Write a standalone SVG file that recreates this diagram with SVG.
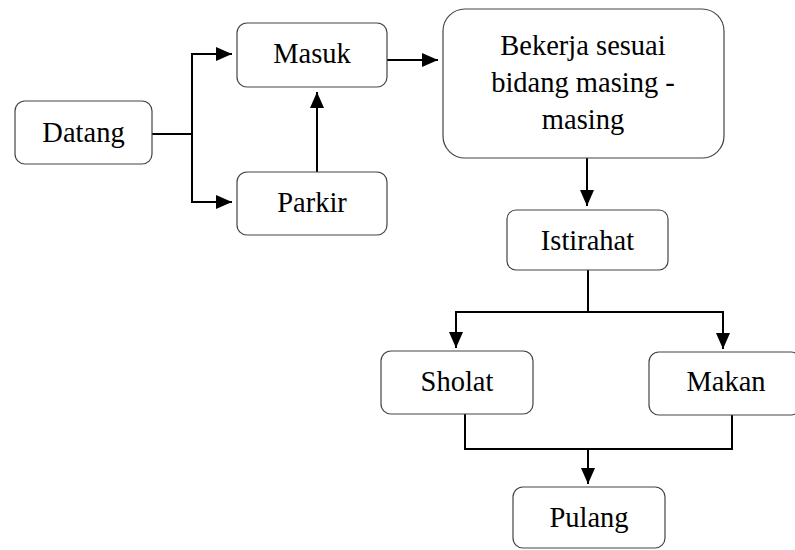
<svg xmlns="http://www.w3.org/2000/svg" width="795" height="550" viewBox="0 0 795 550">
<defs>
<marker id="ah" viewBox="0 0 16 14" refX="16" refY="7" markerWidth="16" markerHeight="14" markerUnits="userSpaceOnUse" orient="auto">
<path d="M0,0 L16,7 L0,14 Z" fill="#000"/>
</marker>
</defs>
<rect width="795" height="550" fill="#fff"/>
<g id="connectors" fill="none" stroke="#000" stroke-width="2">
<path d="M152,134 H192 V54 H232" marker-end="url(#ah)"/>
<path d="M192,134 V202 H232" marker-end="url(#ah)"/>
<path d="M317,172 V92" marker-end="url(#ah)"/>
<path d="M387,60 H438" marker-end="url(#ah)"/>
<path d="M587,158 V206" marker-end="url(#ah)"/>
<path d="M588,270 V312"/>
<path d="M588,312 H456 V348" marker-end="url(#ah)"/>
<path d="M588,312 H723 V349" marker-end="url(#ah)"/>
<path d="M465,414 V449 H732 V415"/>
<path d="M588,449 V484" marker-end="url(#ah)"/>
</g>
<g id="nodes" fill="#fff" stroke="#444" stroke-width="1.2">
<g id="datang"><rect x="15" y="101" width="137" height="63" rx="10"/><text x="83.5" y="142" font-family="Liberation Serif" font-size="28.5" text-anchor="middle" fill="#000" stroke="none" style="font-family:'Liberation Serif',serif">Datang</text></g>
<g id="masuk"><rect x="237" y="23" width="150" height="64" rx="10"/><text x="312" y="63" font-family="Liberation Serif" font-size="28.5" text-anchor="middle" fill="#000" stroke="none" style="font-family:'Liberation Serif',serif">Masuk</text></g>
<g id="parkir"><rect x="237" y="172" width="150" height="63" rx="10"/><text x="312" y="212" font-family="Liberation Serif" font-size="28.5" text-anchor="middle" fill="#000" stroke="none" style="font-family:'Liberation Serif',serif">Parkir</text></g>
<g id="bekerja"><rect x="443" y="9" width="281" height="149" rx="22"/><text x="583" y="55" font-family="Liberation Serif" font-size="28.5" text-anchor="middle" fill="#000" stroke="none" style="font-family:'Liberation Serif',serif">Bekerja sesuai</text><text x="583" y="92" font-family="Liberation Serif" font-size="28.5" text-anchor="middle" fill="#000" stroke="none" style="font-family:'Liberation Serif',serif">bidang masing -</text><text x="583" y="129" font-family="Liberation Serif" font-size="28.5" text-anchor="middle" fill="#000" stroke="none" style="font-family:'Liberation Serif',serif">masing</text></g>
<g id="istirahat"><rect x="507" y="210" width="161" height="60" rx="9"/><text x="587.5" y="250" font-family="Liberation Serif" font-size="28.5" text-anchor="middle" fill="#000" stroke="none" style="font-family:'Liberation Serif',serif">Istirahat</text></g>
<g id="sholat"><rect x="381" y="351" width="152" height="63" rx="10"/><text x="457" y="391" font-family="Liberation Serif" font-size="28.5" text-anchor="middle" fill="#000" stroke="none" style="font-family:'Liberation Serif',serif">Sholat</text></g>
<g id="makan"><rect x="649" y="352" width="152" height="63" rx="10"/><text x="726" y="391" font-family="Liberation Serif" font-size="28.5" text-anchor="middle" fill="#000" stroke="none" style="font-family:'Liberation Serif',serif">Makan</text></g>
<g id="pulang"><rect x="513" y="487" width="152" height="61" rx="10"/><text x="589" y="527" font-family="Liberation Serif" font-size="28.5" text-anchor="middle" fill="#000" stroke="none" style="font-family:'Liberation Serif',serif">Pulang</text></g>
</g>
</svg>
